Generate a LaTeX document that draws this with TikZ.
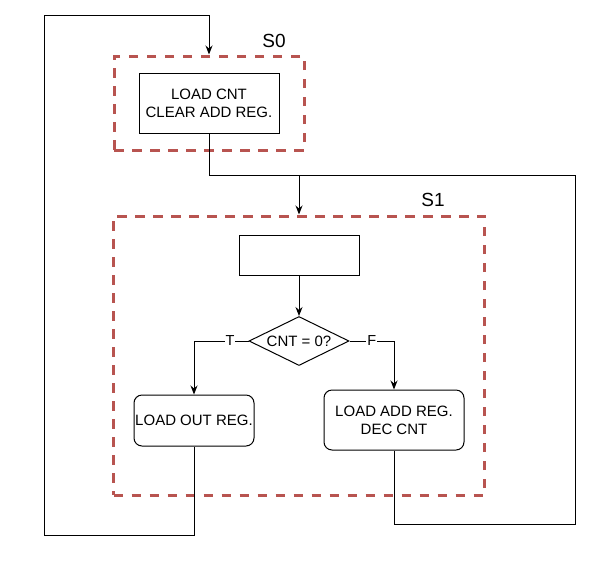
\documentclass[tikz,border=0pt]{standalone}
\usepackage{fontspec}
\setmainfont{Liberation Sans}
\usetikzlibrary{arrows, arrows.meta}
\usetikzlibrary{positioning}
\usetikzlibrary{shapes.geometric}
\usepackage{xcolor}
\definecolor{groupred}{HTML}{B85450}

\tikzset{
	>={Stealth[length=9pt,width=7pt]},
	line/.style={line width=1pt, black},
	stepbox/.style={draw, line width=1pt, align=center, inner sep=0pt, font=\fontsize{15}{18}\selectfont},
	roundbox/.style={stepbox, rounded corners=8pt},
	decision/.style={draw, diamond, aspect=2, line width=1pt, inner sep=0pt, minimum width=100pt, minimum height=49pt, font=\fontsize{15}{18}\selectfont},
	group/.style={draw=groupred, line width=3pt, dash pattern=on 9.5pt off 8.5pt, inner sep=0pt},
	statelabel/.style={font=\fontsize{19}{22}\selectfont},
	branch/.style={fill=white, inner sep=1pt, font=\fontsize{14.5}{16}\selectfont}
}

\begin{document}
\begin{tikzpicture}[x=1pt, y=-1pt] % state S0 / S1 flow
	
	\useasboundingbox (0,0) rectangle (597,566);
	
	%state groups
	\node[group, minimum width=190pt, minimum height=94pt] (s0) at (209,103) {};
	\node[group, minimum width=371pt, minimum height=279pt] (s1) at (299,355.5) {};
	
	%steps
	\node[stepbox, minimum width=140pt, minimum height=60pt] (load) at (209,103) {LOAD CNT\\CLEAR ADD REG.};
	\node[stepbox, minimum width=120pt, minimum height=40pt] (blank) at (299,255) {};
	\node[decision] (test) at (299,341) {CNT = 0?};
	\node[roundbox, minimum width=120pt, minimum height=51pt] (out) at (194,420.5) {LOAD OUT REG.};
	\node[roundbox, minimum width=140pt, minimum height=60pt] (add) at (394,420) {LOAD ADD REG.\\DEC CNT};
	
	%labels
	\node[statelabel] (s0lbl) at (274,41) {S0};
	\node[statelabel] (s1lbl) at (433,200) {S1};
	
	%corner points
	\coordinate (loopL) at (44,535);
	\coordinate (topL) at (44,15);
	\coordinate (loopR) at (575,524);
	\coordinate (join) at (299,175);
	
	%arrows
	\draw[line, ->] (out.south) |- (loopL) -- (topL) -| (s0.north);
	\draw[line, ->] (load.south) |- (join) -- (s1.north);
	\draw[line] (add.south) |- (loopR) |- (join);
	\draw[line, ->] (blank.south) -- (test.north);
	\draw[line, ->] (test.west) -| node[branch, pos=0.17] {T} (out.north);
	\draw[line, ->] (test.east) -| node[branch, pos=0.25] {F} (add.north);
	
\end{tikzpicture}
\end{document}
